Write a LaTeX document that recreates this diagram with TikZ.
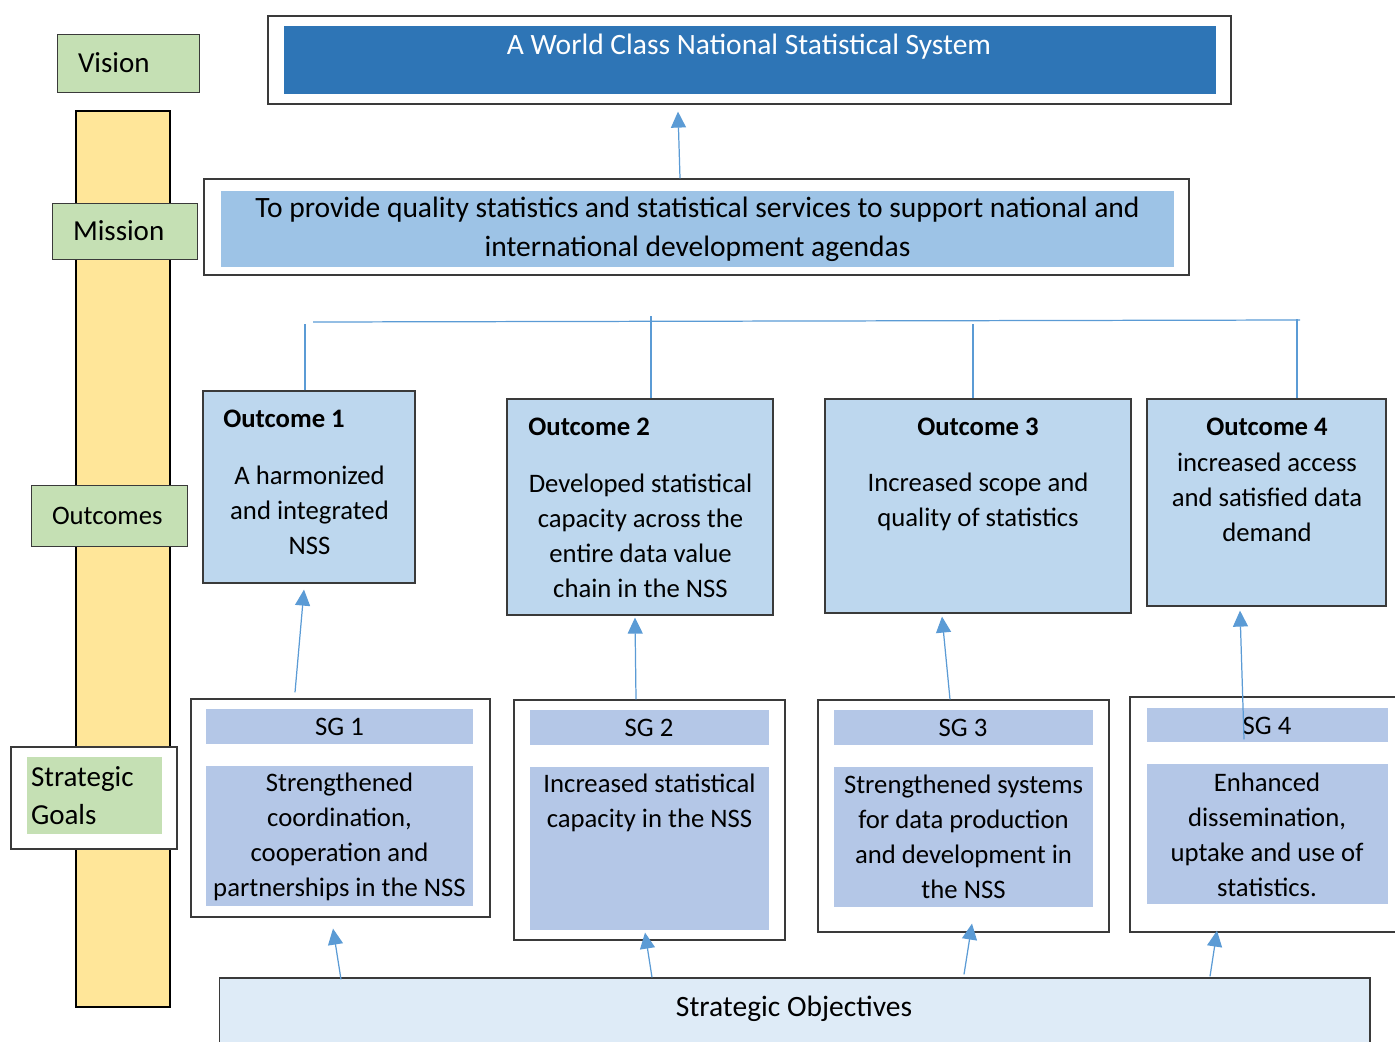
\documentclass[tikz,border=0pt]{standalone}
\usepackage{fontspec}
\setmainfont{Carlito}
\usetikzlibrary{arrows.meta,calc}
\definecolor{barYellow}{HTML}{FFE699}
\definecolor{lblGreen}{HTML}{C5E0B4}
\definecolor{visBlue}{HTML}{2E75B6}
\definecolor{misBlue}{HTML}{9DC3E6}
\definecolor{outBlue}{HTML}{BDD7EE}
\definecolor{sgBlue}{HTML}{B4C7E7}
\definecolor{soBlue}{HTML}{DEEBF7}
\definecolor{arrBlue}{HTML}{5B9BD5}
\definecolor{edge}{HTML}{3A3A3A}
\newcommand\txtfont{\fontsize{15.2}{19.9}\selectfont}
\newcommand\misfont{\fontsize{16.8}{22.2}\selectfont}
\newcommand\lblfont{\fontsize{16.5}{21.5}\selectfont}
\tikzset{
	lbl/.style={draw=edge, fill=lblGreen, text width=#1, inner xsep=0.42cm, align=left, font=\lblfont},
	frame/.style={draw=edge, fill=white, line width=0.7pt},
	obox/.style={draw=edge, fill=outBlue, line width=0.7pt},
	sgbar/.style={fill=sgBlue},
	txt/.style={inner sep=0, font=\txtfont, align=center},
	link/.style={draw=arrBlue, line width=0.7pt},
	arr/.style={link, -{Triangle[length=3.2mm, width=3mm]}}
}
\begin{document}
\begin{tikzpicture}[x=0.02cm, y=-0.02cm]
	\clip(0, 0)rectangle(1395, 1041);
	% left column
	\node[draw, line width=1.3pt, fill=barYellow, minimum width=1.88cm, minimum height=17.92cm](bar)at(123, 559){};
	\node[lbl=2.0cm, minimum height=1.16cm](lvis)at(128, 63){Vision};
	\node[lbl=2.06cm, minimum height=1.12cm](lmis)at(124.5, 231){Mission};
	\node[lbl=2.28cm, minimum height=1.22cm, font=\txtfont](lout)at(109, 515.5){Outcomes};
	\node[frame, minimum width=3.32cm, minimum height=2.04cm](lsg)at(94, 798){};
	\node[fill=lblGreen, text width=2.54cm, inner xsep=0.08cm, minimum height=1.54cm, align=left, font=\lblfont](lsgin)at(94.5, 795.5){Strategic\\Goals};
	% vision and mission
	\node[frame, minimum width=19.26cm, minimum height=1.76cm](vis)at(749.5, 60){};
	\node[fill=visBlue, minimum width=18.64cm, minimum height=1.36cm](visin)at(750, 60){};
	\node[txt, text=white, font=\misfont](vist)at(749, 46.5){A World Class National Statistical System};
	\node[frame, minimum width=19.7cm, minimum height=1.92cm](mis)at(696.5, 227){};
	\node[fill=misBlue, minimum width=19.06cm, minimum height=1.52cm, align=center, font=\misfont](misin)at(697.5, 229){To provide quality statistics and statistical services to support national and\\international development agendas};
	\draw[arr]($(mis.north)+(-16.5, 0)$)--($(vis.south)+(-71.5, 7)$);
	% outcomes
	\node[obox, minimum width=4.24cm, minimum height=3.84cm](o1)at(309, 487){};
	\node[txt, anchor=west, font=\bfseries\txtfont](o1h)at(223, 419){Outcome 1};
	\node[txt](o1b)at(309.5, 510.5){A harmonized\\and integrated\\NSS};
	\node[obox, minimum width=5.32cm, minimum height=4.32cm](o2)at(640, 507){};
	\node[txt, anchor=west, font=\bfseries\txtfont](o2h)at(528, 427){Outcome 2};
	\node[txt](o2b)at(640.5, 536){Developed statistical\\capacity across the\\entire data value\\chain in the NSS};
	\node[obox, minimum width=6.12cm, minimum height=4.28cm](o3)at(978, 506){};
	\node[txt, font=\bfseries\txtfont](o3h)at(978, 427){Outcome 3};
	\node[txt](o3b)at(978, 502){Increased scope and\\quality of statistics};
	\node[obox, minimum width=4.78cm, minimum height=4.14cm](o4)at(1266.5, 502.5){};
	\node[txt, font=\bfseries\txtfont](o4h)at(1267, 427){Outcome 4};
	\node[txt](o4b)at(1267, 497){increased access\\and satisfied data\\demand};
	% bus line over the outcomes
	\draw[link](313, 322)--(1300, 320);
	\draw[link]($(o1.north)+(-4, 0)$)--++(0, -66);
	\draw[link]($(o2.north)+(11, 0)$)--++(0, -82);
	\draw[link]($(o3.north)+(-5, 0)$)--++(0, -74);
	\draw[link]($(o4.north)+(30.5, 0)$)--++(0, -79);
	% strategic goals
	\node[frame, minimum width=5.98cm, minimum height=4.36cm](sg1)at(340.5, 808){};
	\node[sgbar, minimum width=5.34cm, minimum height=0.7cm](sg1h)at(339.5, 726.5){};
	\node[txt](sg1ht)at(339.5, 727){SG 1};
	\node[sgbar, minimum width=5.34cm, minimum height=2.8cm](sg1b)at(339.5, 836){};
	\node[txt](sg1bt)at(339.5, 836.5){Strengthened\\coordination,\\cooperation and\\partnerships in the NSS};
	\node[frame, minimum width=5.42cm, minimum height=4.8cm](sg2)at(649.5, 820){};
	\node[sgbar, minimum width=4.78cm, minimum height=0.7cm](sg2h)at(649.5, 727.5){};
	\node[txt](sg2ht)at(649, 728){SG 2};
	\node[sgbar, minimum width=4.78cm, minimum height=3.26cm](sg2b)at(649.5, 848.5){};
	\node[txt](sg2bt)at(649.5, 803){Increased statistical\\capacity in the NSS};
	\node[frame, minimum width=5.82cm, minimum height=4.64cm](sg3)at(963.5, 816){};
	\node[sgbar, minimum width=5.18cm, minimum height=0.7cm](sg3h)at(963.5, 727.5){};
	\node[txt](sg3ht)at(963, 728){SG 3};
	\node[sgbar, minimum width=5.18cm, minimum height=2.8cm](sg3b)at(963.5, 837){};
	\node[txt](sg3bt)at(963.5, 837){Strengthened systems\\for data production\\and development in\\the NSS};
	\node[frame, minimum width=5.6cm, minimum height=4.7cm](sg4)at(1270, 814.5){};
	\node[sgbar, minimum width=4.82cm, minimum height=0.68cm](sg4h)at(1267.5, 725){};
	\node[txt](sg4ht)at(1267, 726){SG 4};
	\node[sgbar, minimum width=4.82cm, minimum height=2.8cm](sg4b)at(1267.5, 834){};
	\node[txt](sg4bt)at(1267, 834.5){Enhanced\\dissemination,\\uptake and use of\\statistics.};
	\draw[arr]($(sg1.north)+(-45.5, -6)$)--($(o1.south)+(-5, 6)$);
	\draw[arr]($(sg2.north)+(-13.5, 0)$)--($(o2.south)+(-5, 2)$);
	\draw[arr]($(sg3.north)+(-13.5, 0)$)--($(o3.south)+(-36, 3)$);
	\draw[arr]($(sg4.north)+(-26, 43)$)--($(o4.south)+(-26.5, 4)$);
	% strategic objectives
	\node[draw=edge, fill=soBlue, line width=0.7pt, minimum width=23.02cm, minimum height=1.64cm](so)at(794.5, 1019){};
	\node[txt, font=\fontsize{16.8}{20}\selectfont](sot)at(794, 1009){Strategic Objectives};
	\draw[arr]($(so.north)+(-453.5, 2)$)--($(sg1.south)+(-7.5, 11)$);
	\draw[arr]($(so.north)+(-142.5, 0)$)--($(sg2.south)+(-4.5, -8)$);
	\draw[arr]($(so.north)+(169.5, -3)$)--($(sg3.south)+(8.5, -9)$);
	\draw[arr]($(so.north)+(415.5, -1)$)--($(sg4.south)+(-53, -2)$);
\end{tikzpicture}
\end{document}
